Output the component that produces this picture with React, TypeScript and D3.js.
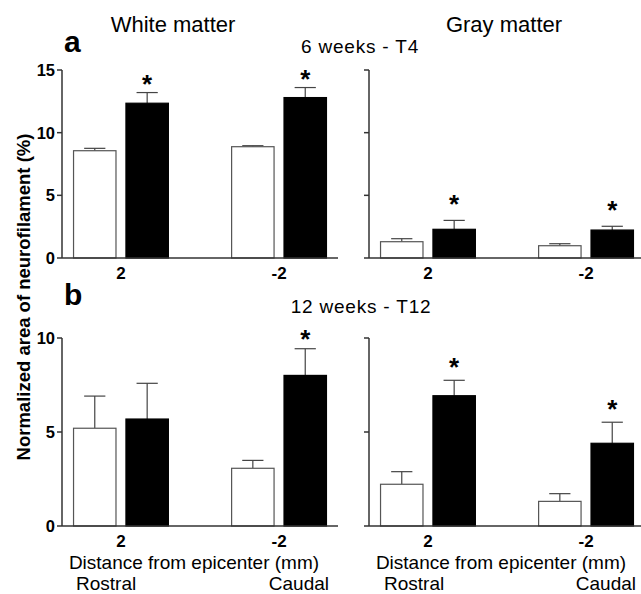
import React from "react";
import * as d3 from "d3";

// distance from epicenter (mm)
const categories = ["2", "-2"];
const groups = ["open", "filled"];

// 6 weeks - T4
const whiteT4Open = [8.56, 8.88];
const whiteT4OpenErr = [0.19, 0.08];
const whiteT4Filled = [12.35, 12.8];
const whiteT4FilledErr = [0.85, 0.8];
const whiteT4Star = [true, true];

const grayT4Open = [1.3, 0.98];
const grayT4OpenErr = [0.24, 0.16];
const grayT4Filled = [2.29, 2.23];
const grayT4FilledErr = [0.71, 0.3];
const grayT4Star = [true, true];

// 12 weeks - T12
const whiteT12Open = [5.2, 3.07];
const whiteT12OpenErr = [1.71, 0.42];
const whiteT12Filled = [5.69, 8.01];
const whiteT12FilledErr = [1.9, 1.42];
const whiteT12Star = [false, true];

const grayT12Open = [2.22, 1.31];
const grayT12OpenErr = [0.67, 0.41];
const grayT12Filled = [6.93, 4.4];
const grayT12FilledErr = [0.82, 1.12];
const grayT12Star = [true, true];

const FONT = "'Liberation Sans', Arial, Helvetica, sans-serif";

function Panel(props) {
  const { x0, x1, yTop, yBottom, yMax, showTickLabels, open, openErr, filled, filledErr, stars, starGap, bottomText } = props;

  const y = d3.scaleLinear().domain([0, yMax]).range([yBottom, yTop]);
  const x = d3.scaleBand().domain(categories).range([x0, x1]).paddingInner(0.4).paddingOuter(0.073);
  const xi = d3.scaleBand().domain(groups).range([0, x.bandwidth()]).paddingInner(0.19);
  const ticks = d3.range(0, yMax + 0.1, 5);

  const bars = [];
  categories.forEach((c, i) => {
    [
      { g: "open", v: open[i], e: openErr[i] },
      { g: "filled", v: filled[i], e: filledErr[i] },
    ].forEach((b) => {
      const bx = x(c) + xi(b.g);
      const bw = xi.bandwidth();
      const cx = bx + bw / 2;
      bars.push(
        <g key={c + b.g}>
          <line x1={cx} x2={cx} y1={y(b.v)} y2={y(b.v + b.e)} stroke="#444" strokeWidth={1.2} />
          <line x1={cx - bw / 4} x2={cx + bw / 4} y1={y(b.v + b.e)} y2={y(b.v + b.e)} stroke="#444" strokeWidth={1.2} />
          <rect
            x={bx}
            y={y(b.v)}
            width={bw}
            height={y(0) - y(b.v)}
            fill={b.g === "open" ? "#fff" : "#000"}
            stroke={b.g === "open" ? "#555" : "#000"}
            strokeWidth={1.2}
          />
          {b.g === "filled" && stars[i] ? (
            <text
              x={cx}
              y={y(b.v + b.e) - starGap + 15}
              textAnchor="middle"
              fontFamily={FONT}
              fontWeight="bold"
              fontSize={26}
            >
              *
            </text>
          ) : null}
        </g>
      );
    });
  });

  return (
    <g>
      {bars}
      <line x1={x0} x2={x0} y1={yTop} y2={yBottom} stroke="#333" strokeWidth={1.5} />
      <line x1={x0} x2={x1} y1={yBottom} y2={yBottom} stroke="#333" strokeWidth={1.5} />
      {ticks.map((t) => (
        <g key={t}>
          <line x1={x0 - 5} x2={x0} y1={y(t)} y2={y(t)} stroke="#333" strokeWidth={1.5} />
          {showTickLabels ? (
            <text x={x0 - 7} y={y(t) + 6} textAnchor="end" fontFamily={FONT} fontWeight="bold" fontSize={16.5}>
              {t}
            </text>
          ) : null}
        </g>
      ))}
      {categories.map((c) => (
        <text
          key={c}
          x={x(c) + x.bandwidth() / 2}
          y={yBottom + 21}
          textAnchor="middle"
          fontFamily={FONT}
          fontWeight="bold"
          fontSize={17}
        >
          {c}
        </text>
      ))}
      {bottomText ? (
        <g fontFamily={FONT} fontSize={19}>
          <text x={x0 + 132} y={yBottom + 43} textAnchor="middle">
            Distance from epicenter (mm)
          </text>
          <text x={bottomText.rostralX} y={yBottom + 63.5} textAnchor="start">
            Rostral
          </text>
          <text x={x1 - 9} y={yBottom + 63.5} textAnchor="end">
            Caudal
          </text>
        </g>
      ) : null}
    </g>
  );
}

export default function App() {
  const W = 641;
  const H = 594;
  const leftX0 = 62;
  const rightX0 = 369;
  const span = 276;

  return (
    <svg
      width={W}
      height={H}
      viewBox={`0 0 ${W} ${H}`}
      style={{ position: "absolute", left: 0, top: 0, background: "#fff" }}
    >
      <rect width={W} height={H} fill="#fff" />
      <text x={173} y={32} textAnchor="middle" fontFamily={FONT} fontSize={22}>
        White matter
      </text>
      <text x={504} y={32} textAnchor="middle" fontFamily={FONT} fontSize={22}>
        Gray matter
      </text>
      <text x={64} y={52} fontFamily={FONT} fontWeight="bold" fontSize={30}>
        a
      </text>
      <text x={360} y={53} textAnchor="middle" fontFamily={FONT} fontSize={19} letterSpacing={0.8}>
        6 weeks - T4
      </text>
      <text x={64} y={305} fontFamily={FONT} fontWeight="bold" fontSize={30}>
        b
      </text>
      <text x={361} y={313} textAnchor="middle" fontFamily={FONT} fontSize={19} letterSpacing={0.8}>
        12 weeks - T12
      </text>
      <text
        transform="translate(30,297) rotate(-90)"
        textAnchor="middle"
        fontFamily={FONT}
        fontWeight="bold"
        fontSize={18.5}
      >
        Normalized area of neurofilament (%)
      </text>

      <Panel
        x0={leftX0}
        x1={leftX0 + span}
        yTop={70}
        yBottom={258}
        yMax={15}
        showTickLabels
        open={whiteT4Open}
        openErr={whiteT4OpenErr}
        filled={whiteT4Filled}
        filledErr={whiteT4FilledErr}
        stars={whiteT4Star}
        starGap={15}
      />
      <Panel
        x0={rightX0}
        x1={rightX0 + span}
        yTop={70}
        yBottom={258}
        yMax={15}
        showTickLabels={false}
        open={grayT4Open}
        openErr={grayT4OpenErr}
        filled={grayT4Filled}
        filledErr={grayT4FilledErr}
        stars={grayT4Star}
        starGap={22}
      />
      <Panel
        x0={leftX0}
        x1={leftX0 + span}
        yTop={338}
        yBottom={526}
        yMax={10}
        showTickLabels
        open={whiteT12Open}
        openErr={whiteT12OpenErr}
        filled={whiteT12Filled}
        filledErr={whiteT12FilledErr}
        stars={whiteT12Star}
        starGap={16}
        bottomText={{ rostralX: 76 }}
      />
      <Panel
        x0={rightX0}
        x1={rightX0 + span}
        yTop={338}
        yBottom={526}
        yMax={10}
        showTickLabels={false}
        open={grayT12Open}
        openErr={grayT12OpenErr}
        filled={grayT12Filled}
        filledErr={grayT12FilledErr}
        stars={grayT12Star}
        starGap={19}
        bottomText={{ rostralX: 384 }}
      />
    </svg>
  );
}
